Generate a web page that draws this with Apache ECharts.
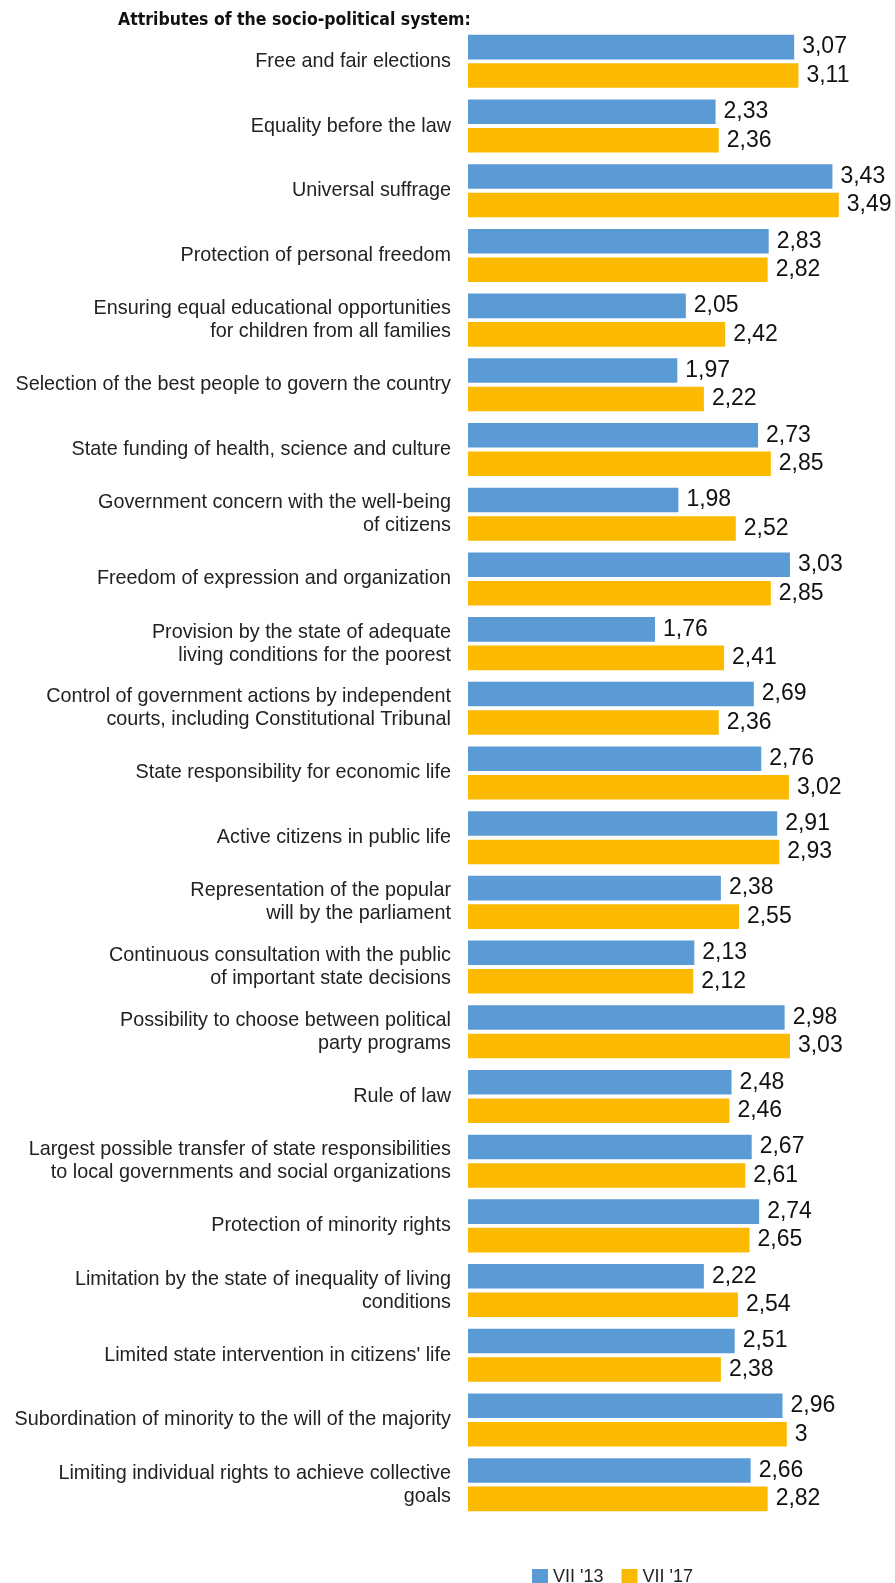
<!DOCTYPE html>
<html>
<head>
<meta charset="utf-8">
<script src="https://cdn.jsdelivr.net/npm/echarts@6/dist/echarts.min.js"></script>
<style>
  html, body { margin: 0; padding: 0; background: #fff; }
  #chart { width: 895px; height: 1583px; }
</style>
</head>
<body>
<div id="chart"></div>
<script>
  // attributes, top to bottom
  var categories = [
    'Free and fair elections',
    'Equality before the law',
    'Universal suffrage',
    'Protection of personal freedom',
    'Ensuring equal educational opportunities\nfor children from all families',
    'Selection of the best people to govern the country',
    'State funding of health, science and culture',
    'Government concern with the well-being\nof citizens',
    'Freedom of expression and organization',
    'Provision by the state of adequate\nliving conditions for the poorest',
    'Control of government actions by independent\ncourts, including Constitutional Tribunal',
    'State responsibility for economic life',
    'Active citizens in public life',
    'Representation of the popular\nwill by the parliament',
    'Continuous consultation with the public\nof important state decisions',
    'Possibility to choose between political\nparty programs',
    'Rule of law',
    'Largest possible transfer of state responsibilities\nto local governments and social organizations',
    'Protection of minority rights',
    'Limitation by the state of inequality of living\nconditions',
    "Limited state intervention in citizens' life",
    'Subordination of minority to the will of the majority',
    'Limiting individual rights to achieve collective\ngoals'
  ];
  var seriesNames = ["VII '13", "VII '17"];
  var vii13 = [3.07, 2.33, 3.43, 2.83, 2.05, 1.97, 2.73, 1.98, 3.03, 1.76, 2.69, 2.76,
    2.91, 2.38, 2.13, 2.98, 2.48, 2.67, 2.74, 2.22, 2.51, 2.96, 2.66];
  var vii17 = [3.11, 2.36, 3.49, 2.82, 2.42, 2.22, 2.85, 2.52, 2.85, 2.41, 2.36, 3.02,
    2.93, 2.55, 2.12, 3.03, 2.46, 2.61, 2.65, 2.54, 2.38, 3, 2.82];

  var labelFont = '"Liberation Sans", Arial, sans-serif';

  function fmt(p) {
    return String(p.value).replace('.', ',');
  }

  var valueLabel = {
    show: true,
    position: 'right',
    distance: 8,
    formatter: fmt,
    fontFamily: labelFont,
    fontSize: 23,
    color: '#111'
  };

  var myChart = echarts.init(document.getElementById('chart'));
  var option = {
    animation: false,
    title: {
      text: 'Attributes of the socio-political system:',
      left: 113,
      top: 6,
      textStyle: {
        fontFamily: '"DejaVu Sans Condensed", "DejaVu Sans", sans-serif',
        fontWeight: 'bold',
        fontSize: 17.5,
        color: '#111'
      }
    },
    legend: {
      top: 1563,
      left: 527,
      itemWidth: 16,
      itemHeight: 16,
      itemGap: 18,
      icon: 'rect',
      textStyle: { fontFamily: labelFont, fontSize: 18, color: '#222' },
      data: seriesNames
    },
    grid: {
      left: 468,
      right: 2,
      top: 29,
      bottom: 66
    },
    xAxis: {
      type: 'value',
      min: 0,
      max: 4,
      show: false
    },
    yAxis: {
      type: 'category',
      inverse: true,
      data: categories,
      axisLine: { show: false },
      axisTick: { show: false },
      axisLabel: {
        margin: 17,
        fontFamily: labelFont,
        fontSize: 19.8,
        lineHeight: 23,
        color: '#222'
      }
    },
    series: [
      {
        name: seriesNames[0],
        type: 'bar',
        data: vii13,
        barGap: '16%',
        barCategoryGap: '18%',
        itemStyle: { color: '#5B9BD5' },
        label: valueLabel
      },
      {
        name: seriesNames[1],
        type: 'bar',
        data: vii17,
        barGap: '16%',
        barCategoryGap: '18%',
        itemStyle: { color: '#FBB900' },
        label: valueLabel
      }
    ]
  };
  myChart.setOption(option);
</script>
</body>
</html>
